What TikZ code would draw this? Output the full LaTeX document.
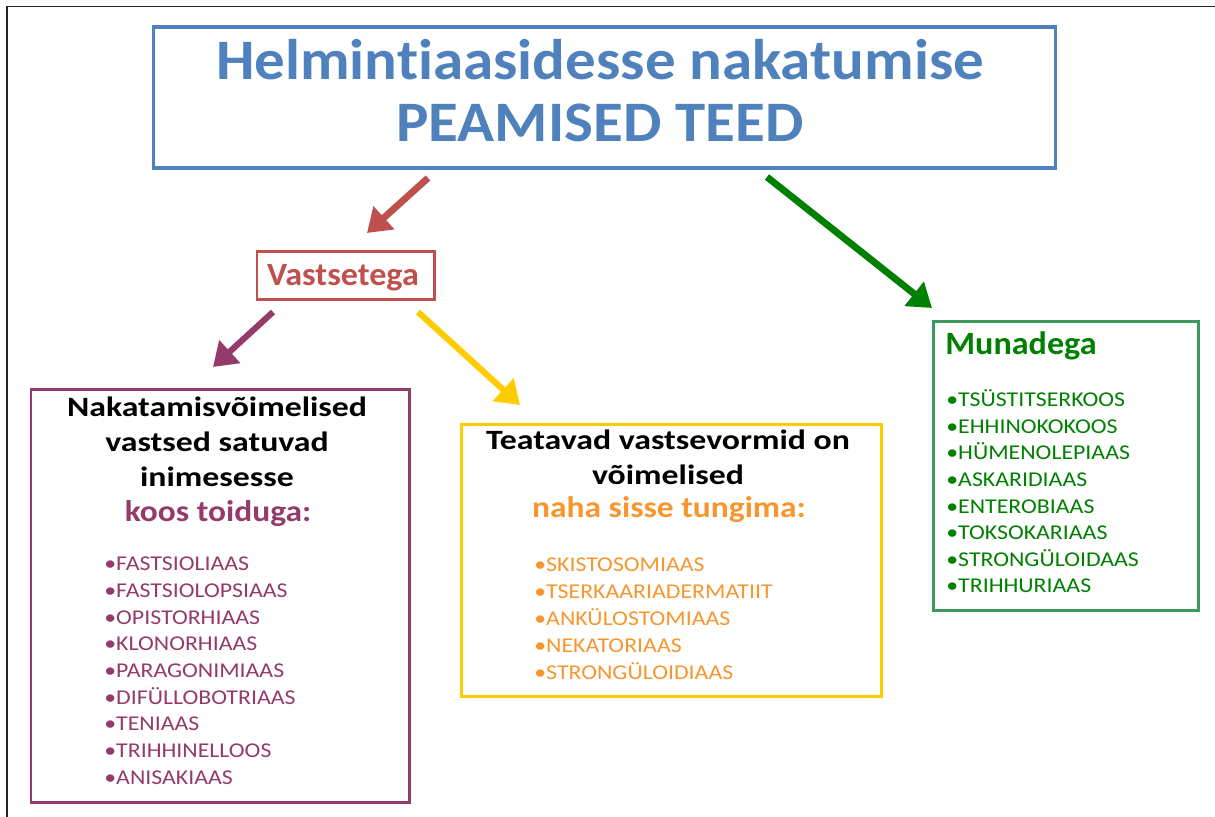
\documentclass[tikz,border=0pt]{standalone}
\usepackage{fontspec}
\setmainfont{Carlito}[Ligatures=CommonOff]
\newfontfamily\ttlfont{Carlito}[FakeStretch=1.065, Ligatures=CommonOff]
\newfontfamily\subfont{Carlito}[FakeStretch=1.05, Ligatures=CommonOff]
\newfontfamily\headfont{Carlito}[FakeStretch=1.21, Ligatures=CommonOff]
\newfontfamily\subhfont{Carlito}[FakeStretch=1.12, Ligatures=CommonOff]
\newfontfamily\listfont{Carlito}[FakeStretch=1.13, Ligatures=CommonOff]
\usetikzlibrary{arrows.meta}
\definecolor{tblue}{HTML}{4F81BD}
\definecolor{tred}{HTML}{C0504D}
\definecolor{tpurple}{HTML}{953B6B}
\definecolor{tyellow}{HTML}{FFCC00}
\definecolor{torange}{HTML}{F7962F}
\definecolor{tgreen}{HTML}{008000}
\definecolor{tgreenbox}{HTML}{3C9A5F}
\begin{document}
\begin{tikzpicture}[x=0.02cm,y=-0.02cm,
  box/.style={draw, line width=1.7pt, inner sep=0pt, anchor=north west, fill=none},
  arr/.style={line width=3.9pt, -{Triangle[length=13pt,width=17pt]}},
  ttl/.style={anchor=base, inner sep=0pt, text=tblue, font=\ttlfont\fontsize{32.6}{36}\selectfont\bfseries},
  heading/.style={anchor=base, font=\headfont\fontsize{15.9}{18}\selectfont\bfseries, inner sep=0pt},
  subhead/.style={anchor=base, font=\subhfont\fontsize{17}{20}\selectfont\bfseries, inner sep=0pt},
  item/.style={anchor=base west, font=\listfont\fontsize{12}{14}\selectfont, inner sep=0pt},
  sub/.style={anchor=base, font=\subfont\fontsize{18.5}{21}\selectfont\bfseries, inner sep=0pt}
]
\useasboundingbox (0,0) rectangle (1215,817);
\fill[white] (0,0) rectangle (1215,817);
% page frame (top and left edges)
\draw[line width=1pt, black!85] (7,817) -- (7,6.5) -- (1215,6.5);

% title
\node[box, draw=tblue, line width=1.8pt, minimum width=18.04cm, minimum height=2.82cm] (title) at (152,25.5) {};
\node[ttl] (t1) at (600,80) {Helmintiaasidesse nakatumise};
\node[ttl] (t2) at (600,142) {PEAMISED TEED};

% Vastsetega
\node[box, draw=tred, minimum width=3.55cm, minimum height=0.96cm] (vbox) at (255.5,250.5) {};
\node[sub, text=tred] (vtext) at (343,286) {Vastsetega};

% purple box
\node[box, draw=tpurple, minimum width=7.57cm, minimum height=8.27cm] (pbox) at (29.5,388) {};
\node[heading] (p1) at (217,416.7) {Nakatamisvõimelised};
\node[heading] (p2) at (217,451.7) {vastsed satuvad};
\node[heading] (p3) at (217,486.7) {inimesesse};
\node[subhead, text=tpurple] (p4) at (218,521.7) {koos toiduga:};
\begin{scope}[every node/.style={item, text=tpurple}]
\node (pi1) at (104,570.7) {•FASTSIOLIAAS};
\node (pi2) at (104,597.4) {•FASTSIOLOPSIAAS};
\node (pi3) at (104,624.1) {•OPISTORHIAAS};
\node (pi4) at (104,650.8) {•KLONORHIAAS};
\node (pi5) at (104,677.5) {•PARAGONIMIAAS};
\node (pi6) at (104,704.2) {•DIFÜLLOBOTRIAAS};
\node (pi7) at (104,730.9) {•TENIAAS};
\node (pi8) at (104,757.6) {•TRIHHINELLOOS};
\node (pi9) at (104,784.3) {•ANISAKIAAS};
\end{scope}

% yellow box
\node[box, draw=tyellow, minimum width=8.4cm, minimum height=5.44cm] (ybox) at (460,423) {};
\node[heading] (y1) at (668,450) {Teatavad vastsevormid on};
\node[heading] (y2) at (668,485) {võimelised};
\node[subhead, text=torange] (y3) at (669,518) {naha sisse tungima:};
\begin{scope}[every node/.style={item, text=torange}]
\node (yi1) at (534,571.7) {•SKISTOSOMIAAS};
\node (yi2) at (534,598.7) {•TSERKAARIADERMATIIT};
\node (yi3) at (534,625.7) {•ANKÜLOSTOMIAAS};
\node (yi4) at (534,652.7) {•NEKATORIAAS};
\node (yi5) at (534,679.7) {•STRONGÜLOIDIAAS};
\end{scope}

% green box
\node[box, draw=tgreenbox, minimum width=5.31cm, minimum height=5.77cm] (gbox) at (932,320.5) {};
\node[sub, anchor=base west, text=tgreen] (g0) at (945,355) {Munadega};
\begin{scope}[every node/.style={item, text=tgreen}]
\node (gi1) at (946,406.7) {•TSÜSTITSERKOOS};
\node (gi2) at (946,433.3) {•EHHINOKOKOOS};
\node (gi3) at (946,459.9) {•HÜMENOLEPIAAS};
\node (gi4) at (946,486.5) {•ASKARIDIAAS};
\node (gi5) at (946,513.1) {•ENTEROBIAAS};
\node (gi6) at (946,539.7) {•TOKSOKARIAAS};
\node (gi7) at (946,566.3) {•STRONGÜLOIDAAS};
\node (gi8) at (946,592.9) {•TRIHHURIAAS};
\end{scope}

% arrows
\coordinate (a1s) at (428,178); \coordinate (a1e) at (367,233);
\coordinate (a2s) at (273,312); \coordinate (a2e) at (213,367);
\coordinate (a3s) at (418,312); \coordinate (a3e) at (520,405);
\coordinate (a4s) at (767,177); \coordinate (a4e) at (932,308);
\draw[arr, draw=tred, fill=tred] (a1s) -- (a1e);
\draw[arr, draw=tpurple, fill=tpurple, line width=3.5pt] (a2s) -- (a2e);
\draw[arr, draw=tyellow, fill=tyellow, line width=3.5pt] (a3s) -- (a3e);
\draw[arr, draw=tgreen, fill=tgreen] (a4s) -- (a4e);
\end{tikzpicture}
\end{document}
